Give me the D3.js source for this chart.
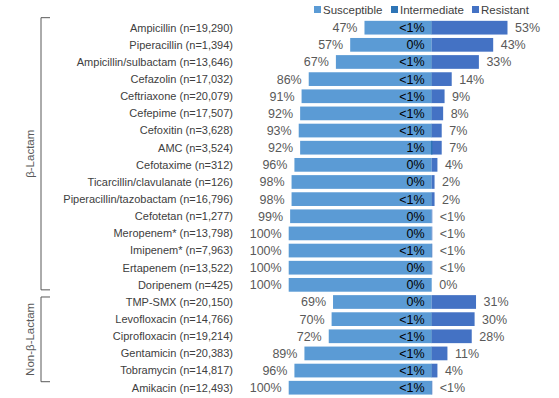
<!DOCTYPE html>
<html>
<head>
<meta charset="utf-8">
<script src="https://cdn.jsdelivr.net/npm/d3@7"></script>
<style>
  body { margin: 0; background: #fff; }
  svg text { font-family: "Liberation Sans", Arial, sans-serif; }
</style>
</head>
<body>
<div id="chart"></div>
<script>
// Drug names, sample sizes and the three result shares (%)
const drugs = ["Ampicillin", "Piperacillin", "Ampicillin/sulbactam", "Cefazolin", "Ceftriaxone",
  "Cefepime", "Cefoxitin", "AMC", "Cefotaxime", "Ticarcillin/clavulanate",
  "Piperacillin/tazobactam", "Cefotetan", "Meropenem*", "Imipenem*", "Ertapenem",
  "Doripenem", "TMP-SMX ", "Levofloxacin", "Ciprofloxacin", "Gentamicin",
  "Tobramycin", "Amikacin"];
const counts = ["19,290", "1,394", "13,646", "17,032", "20,079", "17,507", "3,628", "3,524", "312", "126",
  "16,796", "1,277", "13,798", "7,963", "13,522", "425", "20,150", "14,766", "19,214", "20,383",
  "14,817", "12,493"];
const susceptible = [47, 57, 67, 86, 91, 92, 93, 92, 96, 98, 98, 99, 100, 100, 100, 100, 69, 70, 72, 89, 96, 100];
const intermediate = [0.2, 0, 0.2, 0.2, 0.2, 0.2, 0.2, 1, 0, 0, 0.2, 0, 0, 0.2, 0, 0, 0, 0.2, 0.2, 0.2, 0.2, 0.2];
const resistant = [53, 43, 33, 14, 9, 8, 7, 7, 4, 2, 2, 0.4, 0.4, 0.4, 0.4, 0, 31, 30, 28, 11, 4, 0.4];
const susLabels = ["47%", "57%", "67%", "86%", "91%", "92%", "93%", "92%", "96%", "98%", "98%", "99%",
  "100%", "100%", "100%", "100%", "69%", "70%", "72%", "89%", "96%", "100%"];
const intLabels = ["<1%", "0%", "<1%", "<1%", "<1%", "<1%", "<1%", "1%", "0%", "0%", "<1%", "0%",
  "0%", "<1%", "0%", "0%", "0%", "<1%", "<1%", "<1%", "<1%", "<1%"];
const resLabels = ["53%", "43%", "33%", "14%", "9%", "8%", "7%", "7%", "4%", "2%", "2%", "<1%",
  "<1%", "<1%", "<1%", "0%", "31%", "30%", "28%", "11%", "4%", "<1%"];
const groups = [
  { name: "β-Lactam", first: 0, last: 15 },
  { name: "Non-β-Lactam", first: 16, last: 21 }
];
const seriesNames = ["Susceptible", "Intermediate", "Resistant"];
const colors = ["#5b9bd5", "#2e75b6", "#4472c4"];

const width = 559, height = 398;
const rows = drugs.map((d, i) => ({
  label: d + " (n=" + counts[i] + ")",
  s: susceptible[i], m: intermediate[i], r: resistant[i],
  sl: susLabels[i], ml: intLabels[i], rl: resLabels[i]
}));

const svg = d3.select("#chart").append("svg")
  .attr("width", width)
  .attr("height", height);

const x = d3.scaleLinear().domain([-100, 100]).range([431.7 - 143, 431.7 + 143]);
const y = d3.scaleBand().domain(d3.range(rows.length)).range([17.4, 398]).padding(0.2);
const color = d3.scaleOrdinal().domain(seriesNames).range(colors);

const row = svg.selectAll(".row")
  .data(rows)
  .join("g")
  .attr("class", "row")
  .attr("transform", (d, i) => `translate(0,${y(i)})`);

const bh = y.bandwidth();

// Susceptible to the left of centre
row.append("rect")
  .attr("x", d => x(-d.s))
  .attr("width", d => x(0) - x(-d.s))
  .attr("height", bh)
  .attr("fill", color("Susceptible"));

// Resistant to the right
row.append("rect")
  .attr("x", x(0))
  .attr("width", d => x(d.r) - x(0))
  .attr("height", bh)
  .attr("fill", color("Resistant"));

// Intermediate, centred on zero
row.append("rect")
  .attr("x", d => x(-d.m / 2))
  .attr("width", d => x(d.m / 2) - x(-d.m / 2))
  .attr("height", bh)
  .attr("fill", color("Intermediate"));

// Drug labels
row.append("text")
  .attr("x", 233)
  .attr("y", bh / 2)
  .attr("dy", "0.35em")
  .attr("text-anchor", "end")
  .attr("font-size", 11)
  .attr("fill", "#404040")
  .text(d => d.label);

row.append("text")
  .attr("x", d => x(-d.s) - 7)
  .attr("y", bh / 2)
  .attr("dy", "0.36em")
  .attr("text-anchor", "end")
  .attr("font-size", 12.5)
  .attr("fill", "#595959")
  .text(d => d.sl);

row.append("text")
  .attr("x", x(0) - 7)
  .attr("y", bh / 2)
  .attr("dy", "0.36em")
  .attr("text-anchor", "end")
  .attr("font-size", 12.5)
  .attr("fill", "#000")
  .text(d => d.ml);

row.append("text")
  .attr("x", d => x(d.r) + 7.5)
  .attr("y", bh / 2)
  .attr("dy", "0.36em")
  .attr("font-size", 12.5)
  .attr("fill", "#595959")
  .text(d => d.rl);

// Legend
const legendX = [314, 391, 472];
const legend = svg.selectAll(".legend")
  .data(seriesNames)
  .join("g")
  .attr("class", "legend")
  .attr("transform", (d, i) => `translate(${legendX[i]},9.5)`);

legend.append("rect")
  .attr("x", 0).attr("y", -3.5)
  .attr("width", 7).attr("height", 7)
  .attr("fill", d => color(d));

legend.append("text")
  .attr("x", 9)
  .attr("dy", "0.35em")
  .attr("font-size", 11.5)
  .attr("fill", "#404040")
  .text(d => d);

// Group brackets
const bracketPad = [[-10, 5], [-5, -6]];
groups.forEach((g, i) => {
  const top = y(g.first) + bh / 2 + bracketPad[i][0];
  const bottom = y(g.last) + bh / 2 + bracketPad[i][1];
  svg.append("path")
    .attr("d", `M50,${top}H41V${bottom}H50`)
    .attr("fill", "none")
    .attr("stroke", "#595959")
    .attr("stroke-width", 1);
  svg.append("text")
    .attr("transform", `translate(30,${(top + bottom) / 2}) rotate(-90)`)
    .attr("text-anchor", "middle")
    .attr("dy", "0.35em")
    .attr("font-size", 11.5)
    .attr("fill", "#595959")
    .text(g.name);
});
</script>
</body>
</html>
